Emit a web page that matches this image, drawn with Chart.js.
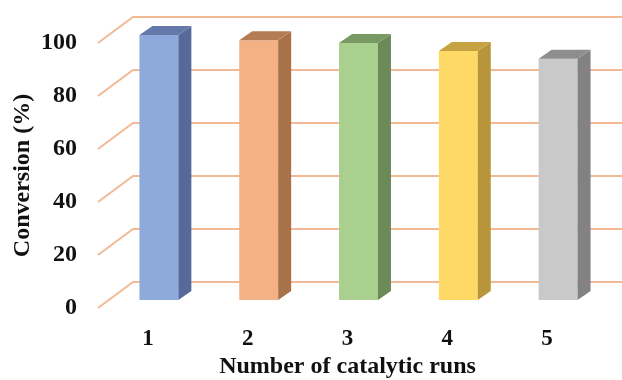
<!DOCTYPE html>
<html>
<head>
<meta charset="utf-8">
<script src="https://cdn.jsdelivr.net/npm/chart.js@4/dist/chart.umd.min.js"></script>
<style>
  html, body { margin: 0; padding: 0; background: #ffffff; }
  #wrap { width: 622px; height: 380px; position: relative; }
</style>
</head>
<body>
<div id="wrap"><canvas id="c" width="622" height="380"></canvas></div>
<script>
// ---- data ----
const categories = ['1', '2', '3', '4', '5'];
const conversion = [100, 98, 97, 94, 91];
const yTicks = [0, 20, 40, 60, 80, 100];
const frontColors = ['#8EA9DB', '#F4B183', '#A9D08E', '#FFD966', '#C9C9C9'];
const sideColors  = ['#56699A', '#A8714A', '#6B8A57', '#B8953A', '#828282'];
const topColors   = ['#6479AA', '#B47C55', '#789A62', '#C6A243', '#8E8E8E'];

// ---- 3D geometry (pixel offsets) ----
const BACK_DX = 35, BACK_DY = -26;   // back wall offset from front plane
const BAR_DX = 11, BAR_DY = -8;      // bar front face offset
const BAR_DEPTH_DX = 13, BAR_DEPTH_DY = -9;
const GRID_COLOR = '#F2BA94';
const FONT = "'Liberation Serif', 'Times New Roman', serif";

const depthPlugin = {
  id: 'depth3d',
  beforeDatasetsDraw(chart) {
    const { ctx, chartArea, scales: { y } } = chart;
    ctx.save();
    ctx.strokeStyle = GRID_COLOR;
    ctx.lineWidth = 2;
    y.ticks.forEach(t => {
      const py = y.getPixelForValue(t.value);
      ctx.beginPath();
      ctx.moveTo(chartArea.left, py);
      ctx.lineTo(chartArea.left + BACK_DX, py + BACK_DY);
      ctx.lineTo(chart.width, py + BACK_DY);
      ctx.stroke();
    });
    ctx.restore();
    ctx.save();
    ctx.translate(BAR_DX, BAR_DY);
  },
  afterDatasetsDraw(chart) {
    const ctx = chart.ctx;
    const meta = chart.getDatasetMeta(0);
    meta.data.forEach((bar, i) => {
      const { x, y, base, width } = bar.getProps(['x', 'y', 'base', 'width'], true);
      const l = x - width / 2, r = x + width / 2;
      ctx.fillStyle = sideColors[i];
      ctx.beginPath();
      ctx.moveTo(r, y);
      ctx.lineTo(r + BAR_DEPTH_DX, y + BAR_DEPTH_DY);
      ctx.lineTo(r + BAR_DEPTH_DX, base + BAR_DEPTH_DY);
      ctx.lineTo(r, base);
      ctx.closePath();
      ctx.fill();
      ctx.fillStyle = topColors[i];
      ctx.beginPath();
      ctx.moveTo(l, y);
      ctx.lineTo(l + BAR_DEPTH_DX, y + BAR_DEPTH_DY);
      ctx.lineTo(r + BAR_DEPTH_DX, y + BAR_DEPTH_DY);
      ctx.lineTo(r, y);
      ctx.closePath();
      ctx.fill();
    });
    ctx.restore();
  }
};

new Chart(document.getElementById('c'), {
  type: 'bar',
  data: {
    labels: categories,
    datasets: [{
      data: conversion,
      backgroundColor: frontColors,
      borderWidth: 0,
      categoryPercentage: 1,
      barPercentage: 0.39
    }]
  },
  options: {
    responsive: false,
    animation: false,
    events: [],
    layout: { padding: { top: 43, right: 25, left: 0, bottom: 0 } },
    plugins: { legend: { display: false }, tooltip: { enabled: false } },
    scales: {
      x: {
        grid: { display: false, drawTicks: false },
        border: { display: false },
        ticks: { color: '#111', font: { family: FONT, size: 23, weight: 'bold' }, padding: 17 },
        title: { display: true, text: 'Number of catalytic runs', color: '#111',
                 font: { family: FONT, size: 24, weight: 'bold' }, padding: { top: 0, bottom: -1 } },
        afterFit(s) { s.height = 72; }
      },
      y: {
        min: 0, max: 100,
        afterBuildTicks(s) { s.ticks = yTicks.map(v => ({ value: v })); },
        grid: { display: false, drawTicks: false },
        border: { display: false },
        ticks: { color: '#111', font: { family: FONT, size: 24, weight: 'bold' }, padding: 21 },
        title: { display: true, text: 'Conversion (%)', color: '#111',
                 font: { family: FONT, size: 24, weight: 'bold' }, padding: { top: 8, bottom: 0 } },
        afterFit(s) { s.width = 98; }
      }
    }
  },
  plugins: [depthPlugin]
});
</script>
</body>
</html>
